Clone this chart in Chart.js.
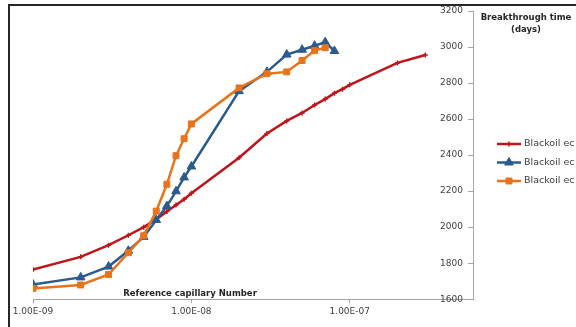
<!DOCTYPE html>
<html>
<head>
<meta charset="utf-8">
<script src="https://cdn.jsdelivr.net/npm/chart.js@4.4.1/dist/chart.umd.min.js"></script>
<style>
  body { margin: 0; background: #fff; }
  #wrap { position: relative; width: 576px; height: 327px; }
</style>
</head>
<body>
<div id="wrap"><canvas id="btChart"></canvas></div>
<script>
// ========= DATA =================== //
let capRed = [1e-9, 2e-9, 3e-9, 4e-9, 5e-9, 6e-9, 7e-9, 8e-9, 9e-9, 1e-8,
  2e-8, 3e-8, 4e-8, 5e-8, 6e-8, 7e-8, 8e-8, 9e-8, 1e-7, 2e-7, 3e-7];
let timeRed = [1765, 1835, 1900, 1955, 2000, 2043, 2087, 2123, 2155, 2188,
  2385, 2520, 2590, 2634, 2678, 2711, 2744, 2766, 2790, 2912, 2956];

let capBlue = [1e-9, 2e-9, 3e-9, 4e-9, 5e-9, 6e-9, 7e-9, 8e-9, 9e-9, 1e-8,
  2e-8, 3e-8, 4e-8, 5e-8, 6e-8, 7e-8, 8e-8];
let timeBlue = [1682, 1721, 1781, 1869, 1946, 2040, 2117, 2199, 2276, 2337,
  2755, 2862, 2958, 2985, 3007, 3027, 2978];

let capOrange = [1e-9, 2e-9, 3e-9, 4e-9, 5e-9, 6e-9, 7e-9, 8e-9, 9e-9, 1e-8,
  2e-8, 3e-8, 4e-8, 5e-8, 6e-8, 7e-8];
let timeOrange = [1660, 1679, 1737, 1858, 1952, 2089, 2238, 2397, 2491, 2573,
  2773, 2852, 2862, 2925, 2980, 2996];

let seriesNames = ["Blackoil ec 1", "Blackoil ec 2", "Blackoil ec 3"];
let xTickVals = [1e-9, 1e-8, 1e-7];
let yTickVals = [1600, 1800, 2000, 2200, 2400, 2600, 2800, 3000, 3200];

const FONT = '"DejaVu Sans", Verdana, sans-serif';
const AXIS_GREY = "#a6a6a6";

function toPoints(xs, ys) {
  return xs.map((x, i) => ({ x: x, y: ys[i] }));
}

// 1.00E-09 style, like the spreadsheet
function sci(v) {
  let e = Math.round(Math.log10(v));
  let m = v / Math.pow(10, e);
  return m.toFixed(2) + "E" + (e < 0 ? "-" : "+") + String(Math.abs(e)).padStart(2, "0");
}

// ========= FRAME, TITLES, LEGEND =================== //
let decor = {
  id: "decor",
  afterDraw(chart) {
    let ctx = chart.ctx;
    let a = chart.chartArea;
    let yScale = chart.scales.y;
    ctx.save();

    // outer chart frame (cut off on the right and bottom)
    ctx.strokeStyle = "#262626";
    ctx.lineWidth = 2;
    ctx.beginPath();
    ctx.moveTo(9, chart.height + 2);
    ctx.lineTo(9, 5);
    ctx.lineTo(chart.width + 2, 5);
    ctx.stroke();

    // y ticks point inward
    ctx.strokeStyle = AXIS_GREY;
    ctx.lineWidth = 1;
    ctx.beginPath();
    yTickVals.forEach((v) => {
      let py = Math.round(yScale.getPixelForValue(v)) + 0.5;
      ctx.moveTo(a.right - 5, py);
      ctx.lineTo(a.right, py);
    });
    ctx.stroke();

    // axis titles
    ctx.fillStyle = "#262626";
    ctx.font = "bold 8.5px " + FONT;
    ctx.textAlign = "center";
    ctx.textBaseline = "alphabetic";
    ctx.fillText("Reference capillary Number", a.left + 157, a.bottom - 3);
    ctx.fillText("Breakthrough time", a.right + 53, 20);
    ctx.fillText("(days)", a.right + 53, 32);

    // legend: line + marker, then name
    ctx.font = "9.5px " + FONT;
    ctx.textAlign = "left";
    ctx.textBaseline = "middle";
    chart.data.datasets.forEach((ds, i) => {
      let ly = 144 + i * 18.5;
      let x0 = a.right + 24;
      let x1 = a.right + 48;
      ctx.strokeStyle = ds.borderColor;
      ctx.fillStyle = ds.borderColor;
      ctx.lineWidth = ds.borderWidth;
      ctx.beginPath();
      ctx.moveTo(x0, ly);
      ctx.lineTo(x1, ly);
      ctx.stroke();
      if (Chart.helpers && Chart.helpers.drawPoint) {
        ctx.lineWidth = ds.pointBorderWidth;
        Chart.helpers.drawPoint(ctx, {
          pointStyle: ds.pointStyle,
          radius: ds.pointRadius,
          borderWidth: ds.pointBorderWidth,
          rotation: 0,
        }, (x0 + x1) / 2, ly);
      }
      ctx.fillStyle = "#404040";
      ctx.fillText(ds.label, x1 + 3, ly);
    });
    ctx.restore();
  },
};

// ========= CHART =================== //
let ctxBt = document.getElementById("btChart").getContext("2d");

let btChart = new Chart(ctxBt, {
  type: "line",
  data: {
    datasets: [
      {
        label: seriesNames[0],
        data: toPoints(capRed, timeRed),
        borderColor: "#c0141c",
        backgroundColor: "#c0141c",
        borderWidth: 2.5,
        pointStyle: "cross",
        pointRadius: 2.5,
        pointBorderWidth: 1.5,
        order: 2,
      },
      {
        label: seriesNames[1],
        data: toPoints(capBlue, timeBlue),
        borderColor: "#2a5a8e",
        backgroundColor: "#2a5a8e",
        borderWidth: 2.5,
        pointStyle: "triangle",
        pointRadius: 5,
        pointBorderWidth: 1,
        order: 1,
      },
      {
        label: seriesNames[2],
        data: toPoints(capOrange, timeOrange),
        borderColor: "#e8731a",
        backgroundColor: "#e8731a",
        borderWidth: 2.5,
        pointStyle: "rect",
        pointRadius: 4.2,
        pointBorderWidth: 1,
        order: 0,
      },
    ],
  },
  options: {
    responsive: true,
    maintainAspectRatio: false,
    animation: false,
    layout: {
      padding: { left: 33, right: 103, top: 11, bottom: 7 },
    },
    plugins: {
      legend: { display: false },
      tooltip: { enabled: false },
    },
    scales: {
      x: {
        type: "logarithmic",
        min: 1e-9,
        max: 6e-7,
        afterBuildTicks: (scale) => {
          scale.ticks = xTickVals.map((v) => ({ value: v }));
        },
        grid: {
          drawOnChartArea: false,
          tickLength: 4,
          color: AXIS_GREY,
        },
        border: { color: AXIS_GREY, width: 1 },
        ticks: {
          autoSkip: false,
          maxRotation: 0,
          padding: 3,
          color: "#404040",
          font: { family: FONT, size: 9 },
          callback: (v) => sci(v),
        },
      },
      y: {
        position: "right",
        min: 1600,
        max: 3200,
        afterBuildTicks: (scale) => {
          scale.ticks = yTickVals.map((v) => ({ value: v }));
        },
        grid: {
          drawOnChartArea: false,
          drawTicks: false,
        },
        border: { color: AXIS_GREY, width: 1 },
        ticks: {
          mirror: true,
          padding: -10,
          color: "#404040",
          font: { family: FONT, size: 9 },
          callback: (v) => String(v),
        },
      },
    },
  },
  plugins: [decor],
});
</script>
</body>
</html>
